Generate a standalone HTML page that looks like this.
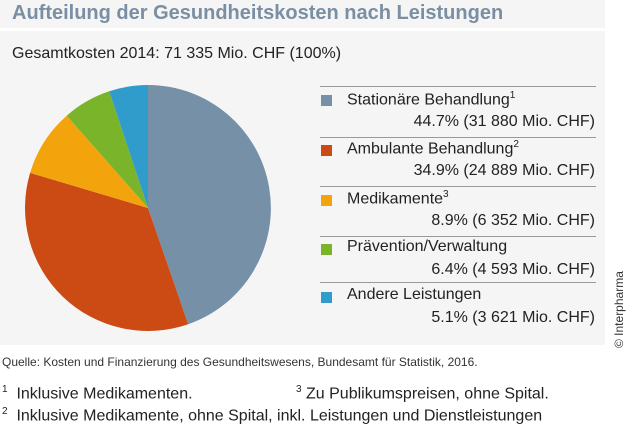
<!DOCTYPE html>
<html><head><meta charset="utf-8"><style>
body{margin:0;width:630px;height:412px;overflow:hidden;background:#fff;font-family:"Liberation Sans",sans-serif;position:relative}
.t{position:absolute;white-space:nowrap}
.panel{position:absolute;left:0;top:31px;width:605px;height:314px;background:#f5f5f5}
.tb{position:absolute;left:0;top:0;width:605px;height:28px;background:#f5f5f5}
.line{position:absolute;left:320px;width:276px;height:1px;background:#999}
.sq{position:absolute;left:321px;width:11px;height:11px}
.lab{position:absolute;left:347px;font-size:16px;color:#222;white-space:nowrap}
.val{position:absolute;right:35px;font-size:16px;color:#222;white-space:nowrap}
sup{font-size:10px}
</style></head><body>
<div class="tb"></div>
<div class="t" style="left:12px;top:2px;font-size:20px;font-weight:bold;color:#7a8fa3">Aufteilung der Gesundheitskosten nach Leistungen</div>
<div class="panel"></div>
<div class="t" style="left:12px;top:45px;font-size:16px;color:#222">Gesamtkosten 2014: 71 335 Mio. CHF (100%)</div>
<svg style="position:absolute;left:0;top:0" width="630" height="412">
<g transform="translate(148,208)">
<path d="M0,0 L0,-123 A123,123 0 0 1 40.2,116.2 Z" fill="#7690a8"/>
<path d="M0,0 L40.2,116.2 A123,123 0 0 1 -117.9,-35.1 Z" fill="#cc4a14"/>
<path d="M0,0 L-117.9,-35.1 A123,123 0 0 1 -81.3,-92.3 Z" fill="#f3a40c"/>
<path d="M0,0 L-81.3,-92.3 A123,123 0 0 1 -38.8,-116.7 Z" fill="#7ab42a"/>
<path d="M0,0 L-38.8,-116.7 A123,123 0 0 1 0,-123 Z" fill="#2f9ccb"/>
</g>
</svg>
<div class="line" style="top:86px"></div>
<div class="line" style="top:137px"></div>
<div class="line" style="top:186px"></div>
<div class="line" style="top:236px"></div>
<div class="line" style="top:282px"></div>
<div class="sq" style="top:95px;background:#7690a8"></div>
<div class="lab" style="top:90px">Stationäre Behandlung<sup>1</sup></div>
<div class="val" style="top:113px">44.7% (31 880 Mio. CHF)</div>
<div class="sq" style="top:145px;background:#cc4a14"></div>
<div class="lab" style="top:139px">Ambulante Behandlung<sup>2</sup></div>
<div class="val" style="top:162px">34.9% (24 889 Mio. CHF)</div>
<div class="sq" style="top:195px;background:#f3a40c"></div>
<div class="lab" style="top:189px">Medikamente<sup>3</sup></div>
<div class="val" style="top:212px">8.9% (6 352 Mio. CHF)</div>
<div class="sq" style="top:244px;background:#7ab42a"></div>
<div class="lab" style="top:238px">Prävention/Verwaltung</div>
<div class="val" style="top:261px">6.4% (4 593 Mio. CHF)</div>
<div class="sq" style="top:292px;background:#2f9ccb"></div>
<div class="lab" style="top:286px">Andere Leistungen</div>
<div class="val" style="top:309px">5.1% (3 621 Mio. CHF)</div>
<div class="t" style="left:612px;top:348px;font-size:12px;color:#333;transform:rotate(-90deg);transform-origin:0 0">© Interpharma</div>
<div class="t" style="left:2px;top:355px;font-size:12px;color:#333">Quelle: Kosten und Finanzierung des Gesundheitswesens, Bundesamt für Statistik, 2016.</div>
<div class="t" style="left:2px;top:384px;font-size:16px;color:#222"><sup>1</sup>&nbsp; Inklusive Medikamenten.</div>
<div class="t" style="left:296px;top:384px;font-size:16px;color:#222"><sup>3</sup>&nbsp;Zu Publikumspreisen, ohne Spital.</div>
<div class="t" style="left:2px;top:406px;font-size:16px;color:#222"><sup>2</sup>&nbsp; Inklusive Medikamente, ohne Spital, inkl. Leistungen und Dienstleistungen</div>
</body></html>
